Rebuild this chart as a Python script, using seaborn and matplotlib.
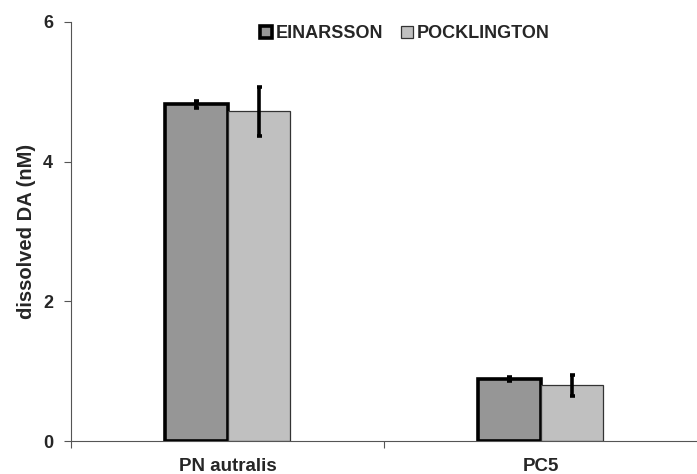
import matplotlib
matplotlib.use("Agg")
import matplotlib.pyplot as plt
import seaborn as sns
import pandas as pd
import numpy as np

categories = ["PN autralis", "PC5"]
series = ["EINARSSON", "POCKLINGTON"]
einarsson = [4.82, 0.89]
einarsson_err = [0.05, 0.03]
pocklington = [4.72, 0.80]
pocklington_err = [0.35, 0.15]
colors = ["#969696", "#C0C0C0"]

df = pd.DataFrame({
    "cat": categories * 2,
    "series": [series[0]] * 2 + [series[1]] * 2,
    "val": einarsson + pocklington,
})
errs = einarsson_err + pocklington_err

sns.set_style("white")
plt.rcParams["font.family"] = ["Liberation Sans", "DejaVu Sans"]
plt.rcParams["font.weight"] = "bold"

fig = plt.figure(figsize=(6.97, 4.74), dpi=100)
ax = fig.add_axes([71/697, 33/474, 626/697, 419/474])

sns.barplot(data=df, x="cat", y="val", hue="series", palette=colors,
            errorbar=None, width=0.4, gap=0, ax=ax, saturation=1)

bars = ax.patches[:4]
for i, p in enumerate(bars):
    if i < 2:
        p.set_edgecolor("black"); p.set_linewidth(2.6)
    else:
        p.set_edgecolor("#333333"); p.set_linewidth(0.9)
    xc = p.get_x() + p.get_width() / 2
    ax.errorbar(xc, p.get_height(), yerr=errs[i], fmt="none", ecolor="black",
                elinewidth=2.6, capsize=1.8, capthick=2.6, zorder=5)

ax.set_xlim(-0.5, 1.5)
ax.set_ylim(0, 6)
ax.set_yticks([0, 2, 4, 6])
ax.set_xticks([-0.5, 0.5], minor=True)
ax.set_xlabel("")
ax.set_ylabel("dissolved DA (nM)", fontsize=14.5, fontweight="bold", labelpad=5)
ax.tick_params(axis="y", direction="out", length=5, width=0.8, color="#555555",
               labelsize=13, pad=8, left=True)
ax.tick_params(axis="x", which="major", length=0, labelsize=13.5, pad=12)
ax.tick_params(axis="x", which="minor", direction="out", length=5, width=0.8,
               color="#555555", bottom=True)
for lab in ax.get_xticklabels() + ax.get_yticklabels():
    lab.set_fontweight("bold")
for s in ["top", "right"]:
    ax.spines[s].set_visible(False)
for s in ["left", "bottom"]:
    ax.spines[s].set_color("#555555")
    ax.spines[s].set_linewidth(0.8)

leg = ax.legend(loc="center", bbox_to_anchor=(0.533, 0.972), ncol=2, frameon=False,
                prop={"weight": "bold", "size": 13}, handlelength=0.65, handleheight=0.65,
                handletextpad=0.2, columnspacing=1.0)
for h, lw in zip(leg.legend_handles, [2.6, 0.9]):
    h.set_linewidth(lw)
    h.set_edgecolor("black" if lw > 1 else "#333333")

fig.savefig("out.png", dpi=100)
